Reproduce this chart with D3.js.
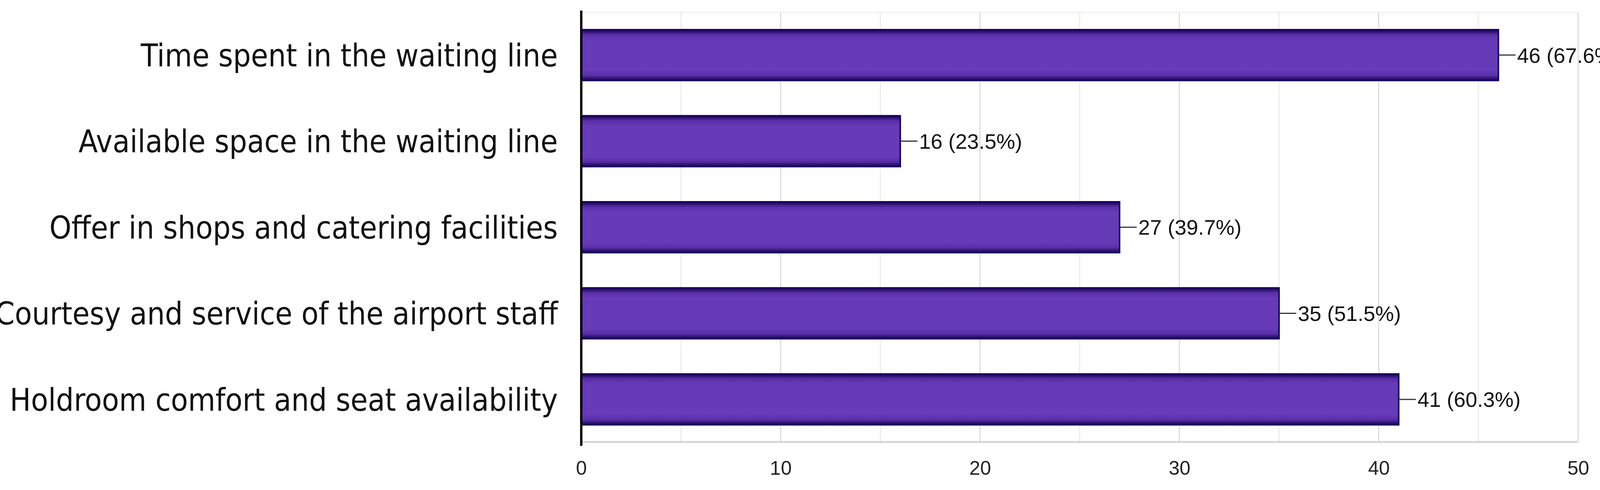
<!DOCTYPE html>
<html><head><meta charset="utf-8">
<script src="https://cdn.jsdelivr.net/npm/d3@7"></script>
<style>body{margin:0;background:#fff}</style>
</head><body><div id="container"></div>
<script>
let w = 4227, h = 1255;

let categories = ["Time spent in the waiting line", "Available space in the waiting line",
  "Offer in shops and catering facilities", "Courtesy and service of the airport staff",
  "Holdroom comfort and seat availability"];
let counts = [46, 16, 27, 35, 41];
let percents = ["67.6%", "23.5%", "39.7%", "51.5%", "60.3%"];
let ticks = [0, 10, 20, 30, 40, 50];

let plotLeft = 1488, plotRight = 4040, plotTop = 32, plotBottom = 1132;

let viz = d3.select("#container").append("svg")
  .attr("width", w).attr("height", h).style("background", "#fff");

let grad = viz.append("defs").append("linearGradient")
  .attr("id", "barfill").attr("x1", 0).attr("y1", 0).attr("x2", 0).attr("y2", 1);
[[0, "#14004f"], [0.1, "#5a2fa8"], [0.2, "#673ab7"], [0.8, "#673ab7"], [0.9, "#5a2fa8"], [1, "#14004f"]]
  .forEach(s => grad.append("stop").attr("offset", s[0]).attr("stop-color", s[1]));

let xScale = d3.scaleLinear().domain([0, 50]).range([plotLeft, plotRight]);
let yScale = d3.scaleBand().domain(categories).range([plotTop, plotBottom]).paddingInner(0.41).paddingOuter(0.2);

// gridlines every 5
viz.append("g").selectAll("line").data(d3.range(5, 51, 5)).join("line")
  .attr("x1", d => xScale(d)).attr("x2", d => xScale(d))
  .attr("y1", plotTop).attr("y2", plotBottom)
  .attr("stroke", d => d % 10 == 0 ? "#dcdcdc" : "#ececec").attr("stroke-width", 3);
viz.append("line").attr("x1", plotLeft).attr("x2", plotRight).attr("y1", plotTop).attr("y2", plotTop)
  .attr("stroke", "#efefef").attr("stroke-width", 3);
viz.append("line").attr("x1", plotLeft).attr("x2", plotRight).attr("y1", plotBottom).attr("y2", plotBottom)
  .attr("stroke", "#d5d5d5").attr("stroke-width", 5);

let xAxis = d3.axisBottom(xScale).tickValues(ticks).tickSize(0).tickPadding(48);
let xg = viz.append("g").attr("transform", "translate(0," + plotBottom + ")").call(xAxis);
xg.select(".domain").remove();
xg.selectAll("text").attr("font-family", "Liberation Sans, Arial").attr("font-size", 50).attr("fill", "#222");

let rows = viz.append("g").selectAll("g").data(categories).join("g");
rows.append("rect")
  .attr("x", plotLeft).attr("y", d => yScale(d))
  .attr("width", (d, i) => xScale(counts[i]) - plotLeft)
  .attr("height", yScale.bandwidth())
  .attr("fill", "url(#barfill)").attr("stroke", "#1a0060").attr("stroke-width", 4);
rows.append("line")
  .attr("x1", (d, i) => xScale(counts[i])).attr("x2", (d, i) => xScale(counts[i]) + 44)
  .attr("y1", d => yScale(d) + yScale.bandwidth() / 2).attr("y2", d => yScale(d) + yScale.bandwidth() / 2)
  .attr("stroke", "#333").attr("stroke-width", 3);
rows.append("text")
  .attr("x", (d, i) => xScale(counts[i]) + 48).attr("y", d => yScale(d) + yScale.bandwidth() / 2)
  .attr("dy", "0.36em").attr("font-family", "Liberation Sans, Arial").attr("font-size", 54).attr("fill", "#111")
  .text((d, i) => counts[i] + " (" + percents[i] + ")");

viz.append("g").selectAll("text").data(categories).join("text")
  .attr("x", plotLeft - 60).attr("y", d => yScale(d) + yScale.bandwidth() / 2)
  .attr("dy", "0.36em").attr("text-anchor", "end")
  .attr("font-family", "Liberation Sans Narrow, DejaVu Sans Condensed, Noto Sans").attr("font-size", 80)
  .attr("fill", "#111").text(d => d);

// left axis line
viz.append("line").attr("x1", plotLeft).attr("x2", plotLeft).attr("y1", plotTop - 5).attr("y2", plotBottom + 10)
  .attr("stroke", "#000").attr("stroke-width", 6);
</script></body></html>
